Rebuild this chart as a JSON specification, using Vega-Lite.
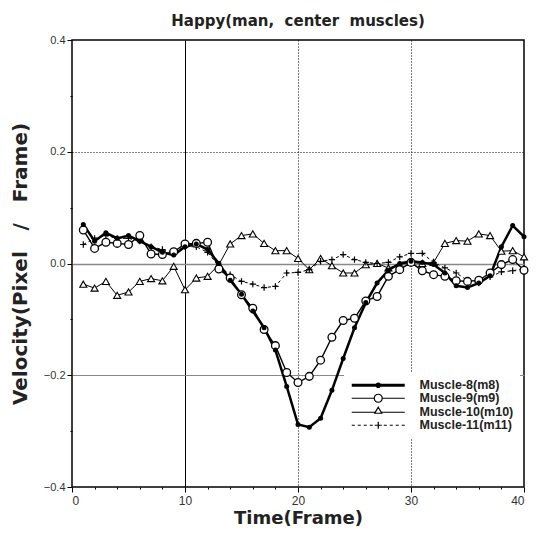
{
  "$schema": "https://vega.github.io/schema/vega-lite/v6.json",
  "width": 452,
  "height": 447,
  "autosize": {"type": "none"},
  "padding": {"left": 72, "top": 40, "right": 13, "bottom": 46},
  "background": "white",
  "title": {"text": "Happy(man,\u00a0 center\u00a0 muscles)", "fontSize": 15, "fontWeight": "bold", "font": "DejaVu Sans", "color": "#222", "offset": 5, "anchor": "middle"},
  "config": {
    "view": {"stroke": "black", "strokeWidth": 1.5},
    "axis": {"labelFont": "Liberation Sans", "titleFont": "DejaVu Sans", "labelColor": "#333", "titleColor": "#222", "tickColor": "black", "domain": false}
  },
  "data": {"values": [
    {"f":1,"Muscle-8(m8)":0.070,"Muscle-9(m9)":0.060,"Muscle-10(m10)":-0.037,"Muscle-11(m11)":0.034},
    {"f":2,"Muscle-8(m8)":0.040,"Muscle-9(m9)":0.027,"Muscle-10(m10)":-0.044,"Muscle-11(m11)":0.045},
    {"f":3,"Muscle-8(m8)":0.055,"Muscle-9(m9)":0.038,"Muscle-10(m10)":-0.032,"Muscle-11(m11)":0.050},
    {"f":4,"Muscle-8(m8)":0.045,"Muscle-9(m9)":0.036,"Muscle-10(m10)":-0.057,"Muscle-11(m11)":0.045},
    {"f":5,"Muscle-8(m8)":0.050,"Muscle-9(m9)":0.034,"Muscle-10(m10)":-0.051,"Muscle-11(m11)":0.045},
    {"f":6,"Muscle-8(m8)":0.040,"Muscle-9(m9)":0.050,"Muscle-10(m10)":-0.032,"Muscle-11(m11)":0.040},
    {"f":7,"Muscle-8(m8)":0.030,"Muscle-9(m9)":0.017,"Muscle-10(m10)":-0.027,"Muscle-11(m11)":0.030},
    {"f":8,"Muscle-8(m8)":0.020,"Muscle-9(m9)":0.016,"Muscle-10(m10)":-0.031,"Muscle-11(m11)":0.025},
    {"f":9,"Muscle-8(m8)":0.015,"Muscle-9(m9)":0.021,"Muscle-10(m10)":-0.005,"Muscle-11(m11)":0.020},
    {"f":10,"Muscle-8(m8)":0.030,"Muscle-9(m9)":0.035,"Muscle-10(m10)":-0.047,"Muscle-11(m11)":0.030},
    {"f":11,"Muscle-8(m8)":0.035,"Muscle-9(m9)":0.036,"Muscle-10(m10)":-0.026,"Muscle-11(m11)":0.030},
    {"f":12,"Muscle-8(m8)":0.025,"Muscle-9(m9)":0.038,"Muscle-10(m10)":-0.023,"Muscle-11(m11)":0.020},
    {"f":13,"Muscle-8(m8)":0.000,"Muscle-9(m9)":-0.010,"Muscle-10(m10)":-0.002,"Muscle-11(m11)":-0.005},
    {"f":14,"Muscle-8(m8)":-0.030,"Muscle-9(m9)":-0.026,"Muscle-10(m10)":0.035,"Muscle-11(m11)":-0.020},
    {"f":15,"Muscle-8(m8)":-0.055,"Muscle-9(m9)":-0.056,"Muscle-10(m10)":0.050,"Muscle-11(m11)":-0.032},
    {"f":16,"Muscle-8(m8)":-0.085,"Muscle-9(m9)":-0.080,"Muscle-10(m10)":0.053,"Muscle-11(m11)":-0.037},
    {"f":17,"Muscle-8(m8)":-0.115,"Muscle-9(m9)":-0.118,"Muscle-10(m10)":0.036,"Muscle-11(m11)":-0.043},
    {"f":18,"Muscle-8(m8)":-0.155,"Muscle-9(m9)":-0.147,"Muscle-10(m10)":0.023,"Muscle-11(m11)":-0.041},
    {"f":19,"Muscle-8(m8)":-0.220,"Muscle-9(m9)":-0.195,"Muscle-10(m10)":0.023,"Muscle-11(m11)":-0.017},
    {"f":20,"Muscle-8(m8)":-0.288,"Muscle-9(m9)":-0.213,"Muscle-10(m10)":0.009,"Muscle-11(m11)":-0.016},
    {"f":21,"Muscle-8(m8)":-0.293,"Muscle-9(m9)":-0.202,"Muscle-10(m10)":-0.011,"Muscle-11(m11)":-0.011},
    {"f":22,"Muscle-8(m8)":-0.277,"Muscle-9(m9)":-0.173,"Muscle-10(m10)":0.009,"Muscle-11(m11)":0.004},
    {"f":23,"Muscle-8(m8)":-0.227,"Muscle-9(m9)":-0.132,"Muscle-10(m10)":-0.004,"Muscle-11(m11)":0.007},
    {"f":24,"Muscle-8(m8)":-0.170,"Muscle-9(m9)":-0.102,"Muscle-10(m10)":-0.017,"Muscle-11(m11)":0.016},
    {"f":25,"Muscle-8(m8)":-0.115,"Muscle-9(m9)":-0.098,"Muscle-10(m10)":-0.017,"Muscle-11(m11)":0.007},
    {"f":26,"Muscle-8(m8)":-0.070,"Muscle-9(m9)":-0.067,"Muscle-10(m10)":-0.002,"Muscle-11(m11)":0.002},
    {"f":27,"Muscle-8(m8)":-0.035,"Muscle-9(m9)":-0.059,"Muscle-10(m10)":0.000,"Muscle-11(m11)":0.000},
    {"f":28,"Muscle-8(m8)":-0.012,"Muscle-9(m9)":-0.023,"Muscle-10(m10)":-0.008,"Muscle-11(m11)":0.002},
    {"f":29,"Muscle-8(m8)":0.000,"Muscle-9(m9)":-0.011,"Muscle-10(m10)":-0.002,"Muscle-11(m11)":0.012},
    {"f":30,"Muscle-8(m8)":0.004,"Muscle-9(m9)":0.002,"Muscle-10(m10)":0.002,"Muscle-11(m11)":0.018},
    {"f":31,"Muscle-8(m8)":0.002,"Muscle-9(m9)":-0.013,"Muscle-10(m10)":0.000,"Muscle-11(m11)":0.018},
    {"f":32,"Muscle-8(m8)":-0.002,"Muscle-9(m9)":-0.020,"Muscle-10(m10)":0.002,"Muscle-11(m11)":0.002},
    {"f":33,"Muscle-8(m8)":-0.017,"Muscle-9(m9)":-0.023,"Muscle-10(m10)":0.036,"Muscle-11(m11)":-0.008},
    {"f":34,"Muscle-8(m8)":-0.040,"Muscle-9(m9)":-0.031,"Muscle-10(m10)":0.041,"Muscle-11(m11)":-0.017},
    {"f":35,"Muscle-8(m8)":-0.043,"Muscle-9(m9)":-0.032,"Muscle-10(m10)":0.040,"Muscle-11(m11)":-0.030},
    {"f":36,"Muscle-8(m8)":-0.035,"Muscle-9(m9)":-0.030,"Muscle-10(m10)":0.053,"Muscle-11(m11)":-0.035},
    {"f":37,"Muscle-8(m8)":-0.022,"Muscle-9(m9)":-0.017,"Muscle-10(m10)":0.050,"Muscle-11(m11)":-0.024},
    {"f":38,"Muscle-8(m8)":0.030,"Muscle-9(m9)":-0.002,"Muscle-10(m10)":0.022,"Muscle-11(m11)":-0.015},
    {"f":39,"Muscle-8(m8)":0.068,"Muscle-9(m9)":0.007,"Muscle-10(m10)":0.023,"Muscle-11(m11)":-0.013},
    {"f":40,"Muscle-8(m8)":0.048,"Muscle-9(m9)":-0.012,"Muscle-10(m10)":0.012,"Muscle-11(m11)":-0.009}
  ]},
  "transform": [{"fold": ["Muscle-8(m8)", "Muscle-9(m9)", "Muscle-10(m10)", "Muscle-11(m11)"], "as": ["key", "v"]}],
  "encoding": {
    "x": {"field": "f", "type": "quantitative", "scale": {"domain": [0, 40], "nice": false},
      "axis": {"title": "Time(Frame)", "values": [0,2,4,6,8,10,12,14,16,18,20,22,24,26,28,30,32,34,36,38,40],
        "labelExpr": "datum.value % 10 === 0 ? datum.label : ''", "format": "d",
        "labelFontSize": 12, "labelPadding": 3,
        "tickSize": {"condition": {"test": "datum.value % 10 === 0", "value": 5}, "value": 2},
        "grid": true,
        "gridColor": "black",
        "gridOpacity": {"condition": {"test": "datum.value === 10 || datum.value === 20 || datum.value === 30", "value": 1}, "value": 0},
        "gridDash": {"condition": {"test": "datum.value === 10", "value": []}, "value": [1, 2]},
        "gridWidth": 1,
        "titleFontSize": 18, "titleFontWeight": "bold", "titlePadding": 3}},
    "y": {"field": "v", "type": "quantitative", "scale": {"domain": [-0.4, 0.4], "nice": false},
      "axis": {"title": "Velocity(Pixel\u00a0 \u00a0/\u00a0 \u00a0Frame)", "values": [-0.4,-0.3,-0.2,-0.1,0,0.1,0.2,0.3,0.4],
        "format": ".1f",
        "labelExpr": "abs(round(datum.value*10)) % 2 === 0 ? datum.label : ''",
        "labelFontSize": 11, "labelPadding": 2,
        "tickSize": {"condition": {"test": "abs(round(datum.value*10)) % 2 === 0", "value": 5}, "value": 2},
        "grid": true,
        "gridColor": {"condition": {"test": "round(datum.value*10) === 2", "value": "black"}, "value": "#888"},
        "gridOpacity": {"condition": {"test": "abs(round(datum.value*10)) === 2 || round(datum.value*10) === 0", "value": 1}, "value": 0},
        "gridDash": {"condition": {"test": "round(datum.value*10) === 2", "value": [1, 2]}, "value": []},
        "gridWidth": {"condition": {"test": "round(datum.value*10) === 0", "value": 1.5}, "value": 1},
        "titleFontSize": 20, "titleFontWeight": "bold", "titlePadding": 13}}
  },
  "layer": [
    {
      "transform": [{"filter": "datum.key === 'Muscle-11(m11)'"}],
      "mark": {"type": "line", "color": "black", "strokeWidth": 1, "strokeDash": [3, 3]}
    },
    {
      "transform": [{"filter": "datum.key === 'Muscle-10(m10)'"}],
      "mark": {"type": "line", "color": "black", "strokeWidth": 1}
    },
    {
      "transform": [{"filter": "datum.key === 'Muscle-9(m9)'"}],
      "mark": {"type": "line", "color": "black", "strokeWidth": 1.4}
    },
    {
      "transform": [{"filter": "datum.key === 'Muscle-8(m8)'"}],
      "mark": {"type": "line", "color": "black", "strokeWidth": 2.5}
    },
    {
      "transform": [{"filter": "datum.key === 'Muscle-10(m10)'"}],
      "mark": {"type": "point", "shape": "triangle-up", "filled": true, "fill": "white", "stroke": "black", "strokeWidth": 1.1, "size": 50, "opacity": 1}
    },
    {
      "transform": [{"filter": "datum.key === 'Muscle-11(m11)'"}],
      "mark": {"type": "point", "shape": "M-1,0L1,0M0,-1L0,1", "filled": false, "stroke": "black", "strokeWidth": 1.2, "size": 40, "opacity": 1}
    },
    {
      "transform": [{"filter": "datum.key === 'Muscle-9(m9)'"}],
      "mark": {"type": "point", "shape": "circle", "filled": true, "fill": "white", "stroke": "black", "strokeWidth": 1.3, "size": 60, "opacity": 1}
    },
    {
      "transform": [{"filter": "datum.key === 'Muscle-8(m8)'"}],
      "mark": {"type": "point", "shape": "circle", "filled": true, "fill": "black", "size": 25, "opacity": 1}
    },
    {
      "mark": {"type": "point", "filled": false, "color": "black", "strokeWidth": 1.2, "opacity": 0},
      "encoding": {
        "shape": {"field": "key", "type": "nominal",
          "scale": {"domain": ["Muscle-8(m8)", "Muscle-9(m9)", "Muscle-10(m10)", "Muscle-11(m11)"], "range": [
            "M-5.3,-0.16H5.3M-5.3,0H5.3M-5.3,0.16H5.3M-0.45,0A0.45,0.45 0 1,1 0.45,0A0.45,0.45 0 1,1 -0.45,0M-0.25,0A0.25,0.25 0 1,1 0.25,0A0.25,0.25 0 1,1 -0.25,0",
            "M-5.3,0H-0.8M0.8,0H5.3M-0.8,0A0.8,0.8 0 1,1 0.8,0A0.8,0.8 0 1,1 -0.8,0",
            "M-5.3,0H-0.58M0.58,0H5.3M0,-1L0.7,0.2L-0.7,0.2Z",
            "M-5.3,0H-4.7M-4.1,0H-3.5M-2.9,0H-2.3M-1.7,0H-1.1M-0.7,0H0.7M1.1,0H1.7M2.3,0H2.9M3.5,0H4.1M4.7,0H5.3M0,-0.7V0.7"
          ]},
          "legend": {"orient": "none", "legendX": 272, "legendY": 333, "title": null,
            "symbolSize": 100, "symbolOffset": 22, "labelOffset": 35, "symbolStrokeWidth": 1.2, "symbolStrokeColor": "black", "symbolFillColor": "transparent", "symbolOpacity": 1,
            "fillColor": "white", "padding": 6, "rowPadding": -1,
            "labelFont": "Liberation Sans", "labelFontSize": 12.5, "labelFontWeight": "bold", "labelColor": "#222"}}
      }
    }
  ]
}
